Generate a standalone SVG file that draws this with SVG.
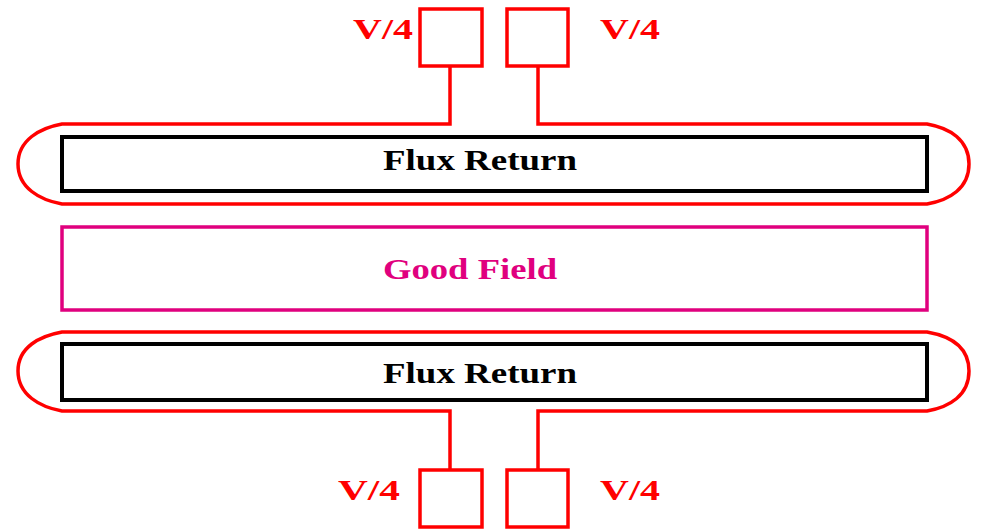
<svg xmlns="http://www.w3.org/2000/svg" width="981" height="529" viewBox="0 0 981 529">
<style>
.coil{fill:none;stroke:#ff0000;stroke-width:3.5;stroke-linejoin:miter}
.box{fill:none;stroke:#ff0000;stroke-width:3.5}
.iron{fill:none;stroke:#000;stroke-width:4}
.good{fill:none;stroke:#e0007e;stroke-width:3.5}
.lbl{font-family:"Liberation Serif",serif;font-weight:bold;font-size:30px}
.red{fill:#ff0000}
</style>
<rect width="981" height="529" fill="#fff"/>
<g id="connectors">
<path class="coil" d="M450,66 V124 H62 C40,128 18,140 18,164 C18,188 40,200 62,204 H927 C950,200 969,188 969,164 C969,140 950,128 927,124 H538 V66"/>
<path class="coil" d="M450,470 V411 H62 C40,407 18,395 18,371 C18,347 40,336 62,332 H927 C950,336 969,347 969,371 C969,395 950,407 927,411 H538 V470"/>
</g>
<g id="flux-return-top">
<rect class="iron" x="62" y="137" width="865" height="54"/>
<text class="lbl" x="480" y="170" text-anchor="middle" textLength="194" lengthAdjust="spacingAndGlyphs">Flux Return</text>
</g>
<g id="good-field">
<rect class="good" x="62" y="227" width="865" height="83"/>
<text class="lbl" x="470" y="279" text-anchor="middle" fill="#e0007e" textLength="174" lengthAdjust="spacingAndGlyphs">Good Field</text>
</g>
<g id="flux-return-bottom">
<rect class="iron" x="62" y="344" width="865" height="56"/>
<text class="lbl" x="480" y="383" text-anchor="middle" textLength="194" lengthAdjust="spacingAndGlyphs">Flux Return</text>
</g>
<g id="supply-top-left">
<rect class="box" x="420" y="9" width="62" height="57"/>
<text class="lbl red" x="383" y="39" text-anchor="middle" textLength="60" lengthAdjust="spacingAndGlyphs">V/4</text>
</g>
<g id="supply-top-right">
<rect class="box" x="507" y="9" width="61" height="57"/>
<text class="lbl red" x="630" y="39" text-anchor="middle" textLength="60" lengthAdjust="spacingAndGlyphs">V/4</text>
</g>
<g id="supply-bottom-left">
<rect class="box" x="420" y="470" width="62" height="57"/>
<text class="lbl red" x="369" y="500" text-anchor="middle" textLength="62" lengthAdjust="spacingAndGlyphs">V/4</text>
</g>
<g id="supply-bottom-right">
<rect class="box" x="507" y="470" width="61" height="57"/>
<text class="lbl red" x="630" y="500" text-anchor="middle" textLength="60" lengthAdjust="spacingAndGlyphs">V/4</text>
</g>
</svg>
